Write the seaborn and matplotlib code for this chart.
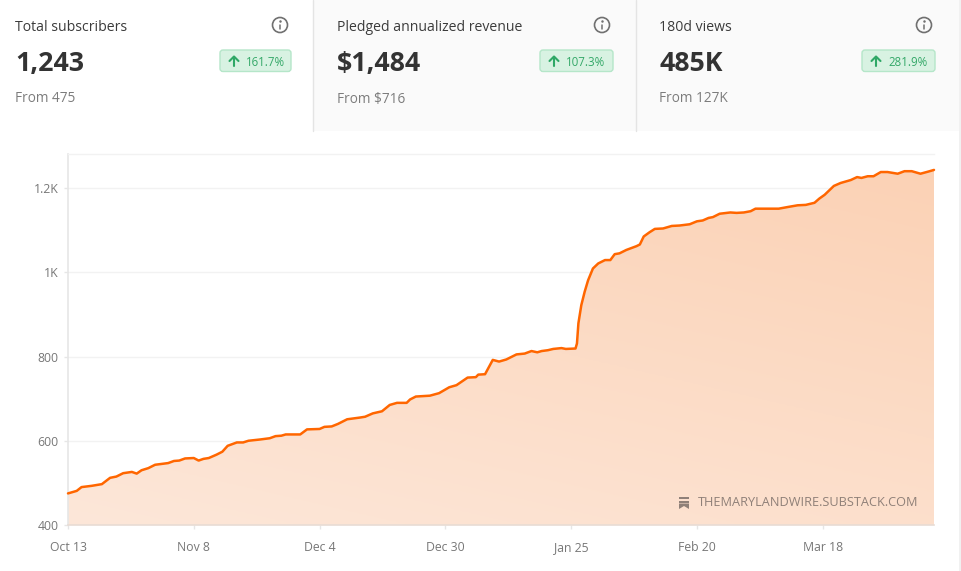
import numpy as np
import pandas as pd
import seaborn as sns
import matplotlib.pyplot as plt
from matplotlib.patches import Circle, FancyBboxPatch, PathPatch, Polygon, Rectangle
from matplotlib.path import Path

# pixels, converted to day / subscriber count
days = [0, 1.8, 2.8, 4.9, 7, 8.7, 10, 11.4, 13.2, 14.2, 15.2, 16.6, 18, 20.7, 21.9, 23, 24.2, 26, 27, 28,
        29.1, 30.7, 31.9, 33, 34.9, 36.2, 37.3, 39.7, 41.7, 42.9, 44.1, 45, 48, 49.4, 52, 53, 54.5, 55.8, 57.7, 60.3,
        61.4, 63, 64.9, 66.5, 68, 70, 70.7, 71.9, 74.8, 76.7, 78.8, 80.3, 82.6, 84.3, 84.8, 86.2, 87.8, 89.1, 90.6, 92.7,
        94.4, 95.8, 97, 97.9, 99.2, 100.3, 102, 102.9, 104.9, 105.2, 105.5, 106.1, 106.8, 107.5, 108.5, 109.6, 111, 112.1, 113, 114,
        115.4, 117.5, 118.2, 119, 120.2, 121.3, 123, 124.8, 126.4, 128.5, 130, 131.2, 132.4, 133.3, 134.7, 136.9, 138.2, 139.7, 141.1, 142.1,
        146.9, 148.8, 150.8, 152.5, 154.3, 155.3, 156.4, 158.3, 159.7, 161.8, 163.1, 164, 165.3, 166.5, 168, 169.4, 171.5, 172.9, 174.4, 176.2,
        177.8, 179]
subs = [475, 481, 490, 493, 497, 512, 515, 523, 526, 522, 530, 535, 543, 547, 552, 553, 558, 559, 553, 557,
        559, 567, 574, 588, 596, 596, 600, 603, 606, 611, 612, 615, 615, 627, 628, 633, 634, 640, 651, 655,
        657, 665, 670, 685, 690, 690, 698, 705, 707, 713, 727, 732, 750, 751, 757, 758, 792, 788, 793, 805,
        807, 813, 810, 813, 815, 818, 820, 818, 819, 831, 879, 922, 954, 981, 1009, 1021, 1029, 1029, 1043, 1045,
        1053, 1062, 1066, 1085, 1095, 1103, 1104, 1110, 1111, 1114, 1121, 1123, 1129, 1131, 1139, 1142, 1141, 1142, 1145, 1151,
        1151, 1155, 1159, 1160, 1165, 1175, 1184, 1205, 1212, 1219, 1226, 1224, 1228, 1228, 1238, 1238, 1234, 1240, 1240, 1234,
        1239, 1243]

tick_days = [0, 26, 52, 78, 104, 130, 156]
tick_dates = ["Oct 13", "Nov 8", "Dec 4", "Dec 30", "Jan 25", "Feb 20", "Mar 18"]
y_ticks = [400, 600, 800, 1000, 1200]
y_labels = ["400", "600", "800", "1K", "1.2K"]

card_titles = ["Total subscribers", "Pledged annualized revenue", "180d views"]
card_values = ["1,243", "$1,484", "485K"]
card_from = ["From 475", "From $716", "From 127K"]
card_change = ["161.7%", "107.3%", "281.9%"]

W, H = 961, 571
sns.set_theme(style="white")
plt.rcParams["font.family"] = ["Open Sans", "DejaVu Sans"]

fig = plt.figure(figsize=(W / 100, H / 100), dpi=100, facecolor="white")

# overlay in pixel coords for the cards
top = fig.add_axes([0, 0, 1, 1], zorder=3)
top.set_xlim(0, W)
top.set_ylim(H, 0)
top.axis("off")
top.patch.set_alpha(0)

top.add_patch(Rectangle((313, 0), 646, 131, fc="#fafafa", ec="none"))
top.add_patch(Rectangle((959, 0), 2, H, fc="#f1f1f1", ec="none"))
top.plot([313, 313], [0, 131], color="#e4e4e4", lw=1)
top.plot([635.5, 635.5], [0, 131], color="#e4e4e4", lw=1)

card_x = [15, 337, 659]
info_x = [280, 602, 924]
badge_x = [220, 540, 862]
badge_w = [71, 73, 73]

for i in range(3):
    x = card_x[i]
    top.text(x, 31, card_titles[i], fontsize=10.1, color="#3b3b3b", va="baseline")
    top.text(x, 71, card_values[i], fontsize=19.3, color="#333333", va="baseline", fontweight="bold")
    top.text(x, 102.5, card_from[i], fontsize=9.8, color="#7c7c7c", va="baseline")

    # info icon
    top.add_patch(Circle((info_x[i], 25), 7.5, fc="none", ec="#707070", lw=1.2))
    top.plot([info_x[i], info_x[i]], [24.5, 29], color="#707070", lw=1.1)
    top.plot([info_x[i]], [21.2], marker="o", ms=1.8, mew=0, color="#707070")

    # badge
    bx = badge_x[i]
    top.add_patch(FancyBboxPatch((bx, 50), badge_w[i], 21.5, boxstyle="round,pad=0,rounding_size=3",
                                 fc="#d8f2e2", ec="#b5e6c9", lw=1))
    top.plot([bx + 14, bx + 14], [56.5, 66], color="#2fa866", lw=1.5)
    top.plot([bx + 9.5, bx + 14, bx + 18.5], [61, 56.5, 61], color="#2fa866", lw=1.5)
    top.text(bx + 26, 62, card_change[i], fontsize=8.3, color="#34a868", va="center", fontweight="medium")

# chart
left, right, y_top, y_bot = 68, 934, 153.5, 525
ax = fig.add_axes([left / W, 1 - y_bot / H, (right - left) / W, (y_bot - y_top) / H], zorder=2)
df = pd.DataFrame({"day": days, "subs": subs})

ax.set_xlim(0, 179)
ax.set_ylim(400, 1282)
ax.set_yticks(y_ticks)
ax.set_yticklabels(y_labels)
ax.set_xticks(tick_days)
ax.set_xticklabels(tick_dates)
ax.grid(axis="y", color="#f2f2f2", lw=1)
ax.set_axisbelow(True)

# gradient under the line, darker towards the top right
gx, gy = np.meshgrid(np.linspace(0, 1, 200), np.linspace(0, 1, 200))
g = 0.35 * gx + 0.65 * gy
c0 = np.array([253, 231, 217]) / 255
c1 = np.array([251, 209, 180]) / 255
img = c0 + (c1 - c0) * g[..., None]
im = ax.imshow(img, extent=[0, 179, 400, 1282], origin="lower", aspect="auto", zorder=1)
verts = [(0, 400)] + list(zip(days, subs)) + [(179, 400)]
clip = PathPatch(Path(verts + [(0, 400)], closed=True), transform=ax.transData, fc="none", ec="none")
ax.add_patch(clip)
im.set_clip_path(clip)

sns.lineplot(data=df, x="day", y="subs", ax=ax, color="#ff6600", lw=1.8, zorder=3, errorbar=None, clip_on=False)
ax.set_xlabel("")
ax.set_ylabel("")

ax.spines["right"].set_visible(False)
ax.spines["top"].set_color("#f2f2f2")
ax.spines["top"].set_linewidth(1)
ax.spines["left"].set_color("#e6e6e6")
ax.spines["left"].set_linewidth(1.2)
ax.spines["bottom"].set_color("#e8dcd4")
ax.spines["bottom"].set_linewidth(1.2)
ax.tick_params(axis="both", length=3, width=1, color="#e6e6e6", labelcolor="#777777", labelsize=8.8, pad=8.5, left=True, bottom=True)
ax.tick_params(axis="y", pad=4)

# watermark
top.text(698, 503, "THEMARYLANDWIRE.SUBSTACK.COM", fontsize=9.2, color="#8f8078", va="center")
top.add_patch(Rectangle((679, 497), 10, 2, fc="#8f8078", ec="none"))
top.add_patch(Rectangle((679, 500.5), 10, 2, fc="#8f8078", ec="none"))
top.add_patch(Polygon([(679, 503.5), (689, 503.5), (689, 509), (684, 506), (679, 509)], fc="#8f8078", ec="none"))

fig.savefig("out.png", dpi=100)
